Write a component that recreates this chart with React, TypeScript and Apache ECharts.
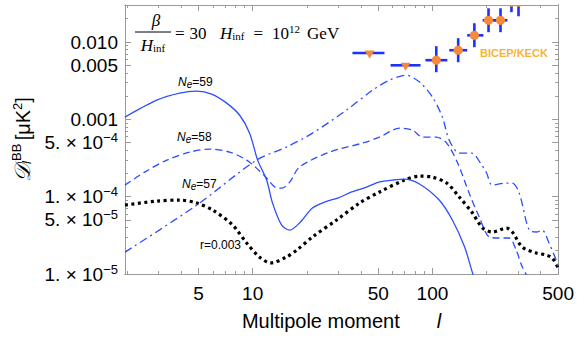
import React, { useEffect, useRef } from "react";
import * as echarts from "echarts";

// ---------------- data (multipole l, D_l^BB in muK^2) ----------------
const l59 = [1.95, 2.93, 3.93, 4.89, 5.91, 7.17, 8.47, 9.62, 10.66, 11.96, 12.9, 14.5, 16.1, 18.2, 21.5, 25.1, 29.7, 35.5, 43, 50.8, 60, 69.9, 84.7, 109, 129, 151, 167, 185];
const d59 = [1.07e-3, 1.77e-3, 2.18e-3, 2.31e-3, 2.12e-3, 1.62e-3, 1.13e-3, 6.63e-4, 2.97e-4, 1.64e-4, 8.26e-5, 4.29e-5, 3.7e-5, 4.56e-5, 7.13e-5, 8.51e-5, 9.59e-5, 1.15e-4, 1.33e-4, 1.55e-4, 1.64e-4, 1.69e-4, 1.46e-4, 9.04e-5, 4.99e-5, 2.23e-5, 1.03e-5, 5e-6];

const l58 = [1.95, 2.51, 3.33, 4.47, 5.77, 7.45, 9.26, 10.5, 11.96, 13.3, 14.5, 16.1, 18.2, 26.8, 40.8, 50.8, 65.7, 77.4, 88, 105, 120, 138, 160, 182, 207, 235, 267, 292, 316, 346];
const d58 = [1.41e-4, 2.08e-4, 2.97e-4, 3.77e-4, 4.12e-4, 3.77e-4, 2.97e-4, 2.34e-4, 1.74e-4, 1.33e-4, 1.29e-4, 1.55e-4, 2.41e-4, 3.77e-4, 4.93e-4, 5.89e-4, 7.69e-4, 7.25e-4, 5.89e-4, 5.89e-4, 4.93e-4, 2.72e-4, 1.11e-4, 5.45e-5, 3.01e-5, 2.92e-5, 2.92e-5, 2.04e-5, 1.23e-5, 8.4e-6];

const l57 = [1.95, 4.89, 10.5, 15.4, 21.5, 33.3, 46.4, 57.6, 71.5, 84.7, 100, 113.5, 124, 141, 165, 188, 200, 215, 258, 278, 304, 345, 381, 407, 445, 487, 500];
const d57 = [1.92e-5, 7.78e-5, 2.97e-4, 4.38e-4, 6.63e-4, 1.32e-3, 2.38e-3, 3.21e-3, 3.72e-3, 3.03e-3, 1.94e-3, 1.07e-3, 5.38e-4, 3.66e-4, 3.66e-4, 2.56e-4, 2.02e-4, 1.41e-4, 1.5e-4, 1.5e-4, 1.11e-4, 3.7e-5, 3.49e-5, 3.7e-5, 2.51e-5, 1.52e-5, 1.23e-5];

const lr = [1.95, 2.93, 3.93, 4.89, 6.0, 7.74, 9.26, 10.9, 12.6, 15.4, 17.6, 21.5, 29.3, 39.3, 50.8, 69.9, 84.7, 100, 120, 141, 167, 190, 216, 258, 278, 316, 378, 428, 464, 500];
const dr = [7.78e-5, 8.77e-5, 9.04e-5, 8.26e-5, 6.71e-5, 4.3e-5, 2.51e-5, 1.66e-5, 1.39e-5, 1.66e-5, 2.04e-5, 3.01e-5, 4.99e-5, 8.26e-5, 1.15e-4, 1.64e-4, 1.84e-4, 1.79e-4, 1.5e-4, 9.89e-5, 6.14e-5, 3.93e-5, 3.49e-5, 3.93e-5, 3.49e-5, 2.23e-5, 1.87e-5, 1.76e-5, 1.61e-5, 1.2e-5];

// BICEP/KECK band powers
const bkL = [44.7, 70.8, 105, 139, 171, 205, 239, 275, 301];
const bkLlo = [35.9, 58.5, 91.4, 124, 156, 190, 221, 262, 285];
const bkLhi = [54.1, 85.8, 121, 156, 192, 227, 261, 290, 318];
const bkD = [7.2e-3, 5.0e-3, 5.82e-3, 7.83e-3, 1.22e-2, 1.91e-2, 1.91e-2, 3.27e-2, 3.27e-2];
const bkDlo = [7.2e-3, 5.0e-3, 4.07e-3, 5.48e-3, 8.57e-3, 1.34e-2, 1.34e-2, 2.43e-2, 2.15e-2];
const bkDhi = [7.2e-3, 5.0e-3, 8.83e-3, 1.12e-2, 1.75e-2, 2.73e-2, 2.73e-2, 4.5e-2, 4.5e-2];
const bkUpperLimit = [1, 1, 0, 0, 0, 0, 0, 0, 0];

// ticks
const xMajor = [5, 10, 50, 100, 500];
const xMinor = [2, 3, 4, 6, 7, 8, 9, 20, 30, 40, 60, 70, 80, 90, 200, 300, 400];
const yMajor = [1e-5, 5e-5, 1e-4, 5e-4, 1e-3, 5e-3, 1e-2];
const yMajorMant = ["1.", "5.", "1.", "5.", "0.001", "0.005", "0.010"];
const yMajorExp = ["−5", "−5", "−4", "−4", "", "", ""];
const yMinor = [2e-5, 3e-5, 4e-5, 6e-5, 7e-5, 8e-5, 9e-5, 2e-4, 3e-4, 4e-4, 6e-4, 7e-4, 8e-4, 9e-4, 2e-3, 3e-3, 4e-3, 6e-3, 7e-3, 8e-3, 9e-3, 2e-2, 3e-2];

const L = (v: number) => Math.log10(v);
const X_MIN = L(1.95);
const X_MAX = L(500);
const Y_MIN = -5;
const Y_MAX = L(0.0301);

const SANS = "'Liberation Sans', Arial, Helvetica, sans-serif";
const SERIF = "'Liberation Serif', 'DejaVu Serif', 'Times New Roman', serif";
const FRAME = "#9a9a9a";
const BLUE = "#2d4dff";
const BAR_BLUE = "#1c30ff";
const ORANGE = "#f5893c";

const pts = (ls: number[], ds: number[]) => ls.map((l, i) => [L(l), L(ds[i])]);

function xAxisDef(position: "top" | "bottom", values: number[], len: number, withLabels: boolean, withName: boolean): any {
  return {
    type: "value",
    min: X_MIN,
    max: X_MAX,
    position,
    axisLine: { show: true, lineStyle: { color: FRAME, width: 1 } },
    axisTick: { show: true, inside: true, length: len, customValues: values.map(L), lineStyle: { color: FRAME, width: 1 } },
    axisLabel: withLabels
      ? {
          show: true,
          customValues: values.map(L),
          margin: 10,
          color: "#000",
          fontFamily: SANS,
          fontSize: 19,
          formatter: (v: number) => String(Math.round(Math.pow(10, v))),
        }
      : { show: false },
    splitLine: { show: false },
    name: withName ? "{a|Multipole moment}{b|l}" : "",
    nameLocation: "middle",
    nameGap: 37,
    nameTextStyle: {
      rich: {
        a: { fontFamily: SANS, fontSize: 20, color: "#000" },
        b: { fontFamily: SANS, fontSize: 20, fontStyle: "italic", color: "#000", padding: [0, 0, 0, 37] },
      },
    },
  };
}

function yAxisDef(position: "left" | "right", values: number[], len: number, withLabels: boolean, withName: boolean): any {
  return {
    type: "value",
    min: Y_MIN,
    max: Y_MAX,
    position,
    axisLine: { show: true, lineStyle: { color: FRAME, width: 1 } },
    axisTick: { show: true, inside: true, length: len, customValues: values.map(L), lineStyle: { color: FRAME, width: 1 } },
    axisLabel: withLabels
      ? {
          show: true,
          customValues: values.map(L),
          margin: 7,
          formatter: (v: number) => {
            let idx = 0;
            let best = 1e9;
            yMajor.forEach((m, i) => {
              const d = Math.abs(L(m) - v);
              if (d < best) { best = d; idx = i; }
            });
            const e = yMajorExp[idx];
            return e ? `{n|${yMajorMant[idx]} × 10}{s|${e}}` : `{n|${yMajorMant[idx]}}`;
          },
          rich: {
            n: { fontFamily: SANS, fontSize: 19, color: "#000" },
            s: { fontFamily: SANS, fontSize: 13, color: "#000", padding: [0, 0, 10, 0] },
          },
        }
      : { show: false },
    splitLine: { show: false },
    name: withName ? "{d|𝒟}{sb|l}{sp|BB} {t|[μK}{sq|2}{t|]}" : "",
    nameLocation: "middle",
    nameRotate: 90,
    nameGap: 85,
    nameTextStyle: {
      rich: {
        d: { fontFamily: SERIF, fontSize: 22, fontStyle: "italic", color: "#000" },
        sb: { fontFamily: SANS, fontSize: 13, fontStyle: "italic", color: "#000", padding: [8, 0, 0, 0] },
        sp: { fontFamily: SANS, fontSize: 13, color: "#000", padding: [0, 0, 12, 0] },
        t: { fontFamily: SANS, fontSize: 20, color: "#000" },
        sq: { fontFamily: SANS, fontSize: 13, color: "#000", padding: [0, 0, 10, 0] },
      },
    },
  };
}

export default function App() {
  const ref = useRef<HTMLDivElement>(null);

  useEffect(() => {
    if (!ref.current) return;
    const chart = echarts.init(ref.current, undefined, { renderer: "svg" });

    const bkData = bkL.map((l, i) => [L(l), L(bkD[i]), L(bkLlo[i]), L(bkLhi[i]), L(bkDlo[i]), L(bkDhi[i]), bkUpperLimit[i]]);

    const option: any = {
      animation: false,
      backgroundColor: "#fff",
      grid: { left: 125, right: 17, top: 5, bottom: 63, containLabel: false },
      xAxis: [
        xAxisDef("bottom", xMajor, 6, true, true),
        xAxisDef("bottom", xMinor, 3, false, false),
        xAxisDef("top", xMajor, 6, false, false),
        xAxisDef("top", xMinor, 3, false, false),
      ],
      yAxis: [
        yAxisDef("left", yMajor, 6, true, true),
        yAxisDef("left", yMinor, 3, false, false),
        yAxisDef("right", yMajor, 6, false, false),
        yAxisDef("right", yMinor, 3, false, false),
      ],
      series: [
        {
          name: "r=0.003",
          type: "line",
          data: pts(lr, dr),
          showSymbol: false,
          smooth: 0.3,
          clip: true,
          lineStyle: { color: "#000", width: 3.2, type: [3, 3.5] },
          z: 3,
        },
        {
          name: "Ne=57",
          type: "line",
          data: pts(l57, d57),
          showSymbol: false,
          smooth: 0.3,
          clip: true,
          lineStyle: { color: BLUE, width: 1.3, type: [8, 4, 2, 4] },
          z: 4,
        },
        {
          name: "Ne=58",
          type: "line",
          data: pts(l58, d58),
          showSymbol: false,
          smooth: 0.3,
          clip: true,
          lineStyle: { color: BLUE, width: 1.3, type: [7, 4] },
          z: 4,
        },
        {
          name: "Ne=59",
          type: "line",
          data: pts(l59, d59),
          showSymbol: false,
          smooth: 0.3,
          clip: true,
          lineStyle: { color: BLUE, width: 1.3 },
          z: 4,
        },
        {
          name: "BICEP/KECK",
          type: "custom",
          clip: true,
          z: 6,
          data: bkData,
          renderItem: (params: any, api: any) => {
            const c = api.coord([api.value(0), api.value(1)]);
            const xl = api.coord([api.value(2), api.value(1)]);
            const xh = api.coord([api.value(3), api.value(1)]);
            const children: any[] = [
              { type: "line", shape: { x1: xl[0], y1: c[1], x2: xh[0], y2: c[1] }, style: { stroke: BAR_BLUE, lineWidth: 2.6 } },
            ];
            if (api.value(6) === 1) {
              children.push({
                type: "polygon",
                shape: { points: [[c[0] - 5, c[1] - 2.5], [c[0] + 5, c[1] - 2.5], [c[0], c[1] + 5.5]] },
                style: { fill: ORANGE },
              });
            } else {
              const yl = api.coord([api.value(0), api.value(4)]);
              const yh = api.coord([api.value(0), api.value(5)]);
              children.push({ type: "line", shape: { x1: c[0], y1: yl[1], x2: c[0], y2: yh[1] }, style: { stroke: BAR_BLUE, lineWidth: 2.6 } });
              children.push({ type: "circle", shape: { cx: c[0], cy: c[1], r: 4.6 }, style: { fill: ORANGE } });
            }
            return { type: "group", children };
          },
        },
      ],
      graphic: [
        // beta / H_inf fraction
        { type: "text", x: 156, y: 20, style: { text: "β", font: `italic 17px ${SERIF}`, fill: "#000", align: "center", verticalAlign: "middle" } },
        { type: "line", shape: { x1: 135, y1: 32, x2: 171, y2: 32 }, style: { stroke: "#000", lineWidth: 1 } },
        {
          type: "text", x: 153, y: 45,
          style: {
            text: "{h|H}{s|inf}", align: "center", verticalAlign: "middle",
            rich: { h: { fontFamily: SERIF, fontSize: 17, fontStyle: "italic", fill: "#000" }, s: { fontFamily: SERIF, fontSize: 11, fill: "#000", padding: [5, 0, 0, 0] } },
          },
        },
        {
          type: "text", x: 175, y: 33,
          style: {
            text: "{r|=}{r2|30}", verticalAlign: "middle",
            rich: {
              r: { fontFamily: SERIF, fontSize: 17, fill: "#000" },
              r2: { fontFamily: SERIF, fontSize: 17, fill: "#000", padding: [0, 0, 0, 5] },
            },
          },
        },
        {
          type: "text", x: 220, y: 33,
          style: {
            text: "{h|H}{s|inf}{e|=}{r|10}{p|12}{g|GeV}", verticalAlign: "middle",
            rich: {
              h: { fontFamily: SERIF, fontSize: 17, fontStyle: "italic", fill: "#000" },
              s: { fontFamily: SERIF, fontSize: 11, fill: "#000", padding: [5, 0, 0, 0] },
              e: { fontFamily: SERIF, fontSize: 17, fill: "#000", padding: [0, 9, 0, 9] },
              r: { fontFamily: SERIF, fontSize: 17, fill: "#000" },
              p: { fontFamily: SERIF, fontSize: 11, fill: "#000", padding: [0, 0, 8, 0] },
              g: { fontFamily: SERIF, fontSize: 17, fill: "#000", padding: [0, 0, 0, 7] },
            },
          },
        },
        // curve labels
        ...[["59", 178, 82], ["58", 177, 137], ["57", 182, 184]].map(([n, x, y]) => ({
          type: "text", x, y,
          style: {
            text: `{n|N}{e|e}{t|=${n}}`, verticalAlign: "middle",
            rich: {
              n: { fontFamily: SANS, fontSize: 12, fontStyle: "italic", fill: "#000" },
              e: { fontFamily: SANS, fontSize: 10, fontStyle: "italic", fill: "#000", padding: [4, 0, 0, 0] },
              t: { fontFamily: SANS, fontSize: 12, fill: "#000" },
            },
          },
        })),
        { type: "text", x: 200, y: 245, style: { text: "r=0.003", font: `12px ${SANS}`, fill: "#000", verticalAlign: "middle" } },
        { type: "text", x: 480, y: 53, style: { text: "BICEP/KECK", font: `bold 11px ${SANS}`, fill: "#f7b334", verticalAlign: "middle" } },
      ],
    };

    chart.setOption(option);
    return () => chart.dispose();
  }, []);

  return <div ref={ref} style={{ position: "fixed", left: 0, top: 0, width: 577, height: 337, background: "#fff" }} />;
}
